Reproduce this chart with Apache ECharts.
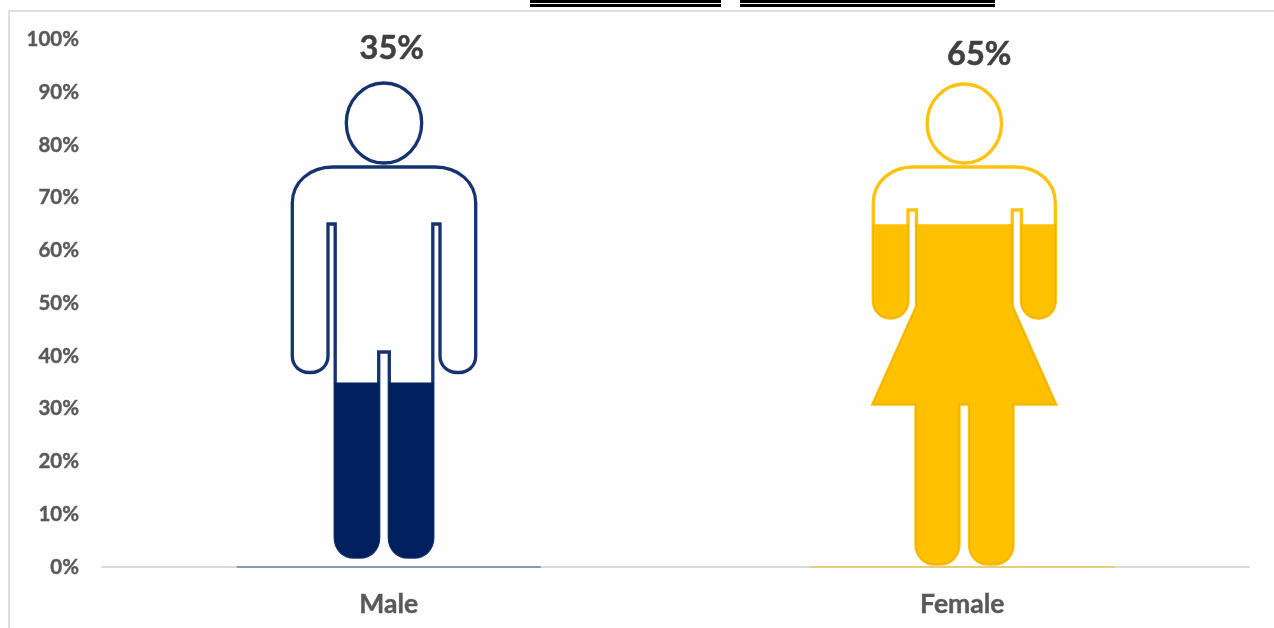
<!DOCTYPE html>
<html>
<head>
<meta charset="utf-8">
<style>
  html, body { margin: 0; padding: 0; background: #fefefe; }
  #chart { width: 1274px; height: 628px; }
</style>
<script src="https://cdn.jsdelivr.net/npm/echarts@6/dist/echarts.min.js"></script>
</head>
<body>
<div id="chart"></div>
<script>
// Gender split, shown as two figures filled up to their share.
const categories = ['Male', 'Female'];
const shareValues = [35, 65];
const outlineValues = [100, 100];
const baseValues = [0, 0];
const percentTicks = { min: 0, max: 100, interval: 10 };

// Pictogram outlines. The zero-length segments widen each shape's bounding box
// to a square, so the library scales it evenly and stroke widths stay uniform.
const MALE_SHAPE = 'path://' +
  'M147 83 L147 83 M621 557 L621 557 ' +
  'M346.3 123 A37.7 40 0 1 1 421.7 123 A37.7 40 0 1 1 346.3 123 Z ' +
  'M333 167 L435 167 C458 167 475.7 182 475.7 203 L475.7 356 ' +
  'C475.7 366 468 372.5 459 372.5 L457 372.5 C448 372.5 440 366 440 356 ' +
  'L440 224 L432.8 224 L432.8 537 C432.8 549 425 557 414 557 L408 557 ' +
  'C397 557 389.3 549 389.3 537 L389.3 352 L378.7 352 L378.7 537 ' +
  'C378.7 549 371 557 360 557 L354 557 C343 557 335.2 549 335.2 537 ' +
  'L335.2 224 L328 224 L328 356 C328 366 320 372.5 311 372.5 L309 372.5 ' +
  'C300 372.5 292.3 366 292.3 356 L292.3 203 C292.3 182 310 167 333 167 Z';

const FEMALE_SHAPE = 'path://' +
  'M724.25 84 L724.25 84 M1204.25 564 L1204.25 564 ' +
  'M927.1 123.5 A37.2 39.5 0 1 1 1001.5 123.5 A37.2 39.5 0 1 1 927.1 123.5 Z ' +
  'M913 167 L1015.6 167 C1038 167 1055.3 182 1055.3 203 L1055.3 300 ' +
  'C1055.3 311 1048 318 1039 318 L1038 318 C1029 318 1021.4 311 1021.4 300 ' +
  'L1021.4 210 L1012.2 210 L1012.2 306.7 L1055.5 404 L1013 404 L1013 544 ' +
  'C1013 556 1005 564 994 564 L988.5 564 C977 564 969.5 556 969.5 544 ' +
  'L969.5 404 L959 404 L959 544 C959 556 951 564 940 564 L935 564 ' +
  'C924 564 916 556 916 544 L916 404 L873 404 L916.5 306.7 L916.5 210 ' +
  'L908 210 L908 300 C908 311 900 318 891 318 L890 318 ' +
  'C881 318 873.3 311 873.3 300 L873.3 203 C873.3 182 891 167 913 167 Z';

const figures = [
  {
    symbol: MALE_SHAPE, size: [474, 474], offset: [-4.75, 16.75],
    line: '#14336f', fill: '#002060', edge: '#001a52',
    base: '#6c82b4', labelOffset: [3, 31]
  },
  {
    symbol: FEMALE_SHAPE, size: [480, 480], offset: [2, 20.75],
    line: '#ffc20f', fill: '#ffc000', edge: '#e3ad00',
    base: '#f2c75c', labelOffset: [17, 37]
  }
];

const AXIS_TEXT = '#595959';
const FONT = 'Lato, "Open Sans", sans-serif';

const chart = echarts.init(document.getElementById('chart'), null, { renderer: 'canvas' });

function band(x, y, width, height, fill) {
  return { type: 'rect', silent: true, z: 0, shape: { x, y, width, height }, style: { fill } };
}

chart.setOption({
  animation: false,
  backgroundColor: '#fefefe',
  grid: { left: 102, right: 25, top: 39.5, bottom: 61 },
  graphic: [
    band(8, 10, 1266, 2, '#dedede'),
    band(8, 10, 2, 618, '#dedede'),
    band(530, 0, 191, 3, '#000000'),
    band(530, 4, 191, 3, '#000000'),
    band(740, 0, 255, 3, '#000000'),
    band(740, 4, 255, 3, '#000000')
  ],
  xAxis: {
    type: 'category',
    data: categories,
    axisLine: { lineStyle: { color: '#d9d9d9', width: 2 } },
    axisTick: { show: false },
    axisLabel: {
      margin: 24, color: AXIS_TEXT, fontFamily: FONT, fontWeight: 'bold', fontSize: 26.5,
      textBorderColor: AXIS_TEXT, textBorderWidth: 0.4
    }
  },
  yAxis: {
    type: 'value',
    min: percentTicks.min,
    max: percentTicks.max,
    interval: percentTicks.interval,
    axisLine: { show: false },
    axisTick: { show: false },
    splitLine: { show: false },
    axisLabel: {
      margin: 23, color: AXIS_TEXT, fontFamily: FONT, fontWeight: 'bold', fontSize: 20.5,
      padding: [3, 0, 0, 0],
      textBorderColor: AXIS_TEXT, textBorderWidth: 0.4,
      formatter: '{value}%'
    }
  },
  series: [
    {
      // Thin base under each figure.
      type: 'bar',
      barWidth: 304,
      z: 4,
      data: baseValues.map((value, i) => ({
        value,
        itemStyle: { color: figures[i].base, borderColor: figures[i].base, borderWidth: 1 }
      }))
    },
    {
      // Empty figure, full axis height, carrying the share label.
      type: 'pictorialBar',
      barGap: '-100%',
      barWidth: 200,
      symbolPosition: 'center',
      symbolBoundingData: 100,
      z: 2,
      data: outlineValues.map((value, i) => ({
        value,
        symbol: figures[i].symbol,
        symbolSize: figures[i].size,
        symbolOffset: figures[i].offset,
        itemStyle: { color: '#ffffff', borderColor: figures[i].line, borderWidth: 2.8 },
        label: {
          show: true,
          position: 'top',
          offset: figures[i].labelOffset,
          formatter: shareValues[i] + '%',
          color: '#404040',
          fontFamily: FONT,
          fontWeight: 'bold',
          fontSize: 32.5,
          textBorderColor: '#404040',
          textBorderWidth: 0.5
        }
      }))
    },
    {
      // Same figure, clipped at the share value.
      type: 'pictorialBar',
      barGap: '-100%',
      barWidth: 200,
      symbolPosition: 'center',
      symbolBoundingData: 100,
      symbolClip: true,
      z: 3,
      data: shareValues.map((value, i) => ({
        value,
        symbol: figures[i].symbol,
        symbolSize: figures[i].size,
        symbolOffset: figures[i].offset,
        itemStyle: { color: figures[i].fill, borderColor: figures[i].edge, borderWidth: 0.8 }
      }))
    }
  ]
});
</script>
</body>
</html>
